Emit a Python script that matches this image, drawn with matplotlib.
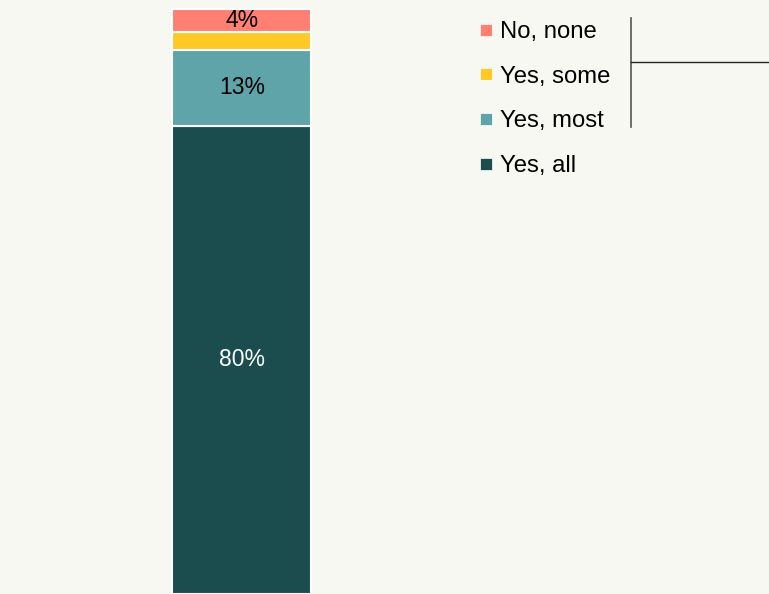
import matplotlib.pyplot as plt
from matplotlib.lines import Line2D

plt.rcParams['font.family'] = ['Liberation Sans', 'DejaVu Sans']

# Data (stack order bottom -> top)
categories = ['Yes, all', 'Yes, most', 'Yes, some', 'No, none']
values = [80, 13, 3, 4]
labels = ['80%', '13%', '', '4%']
colors = ['#1b4d4f', '#5fa4a9', '#ffc926', '#ff7f72']
label_colors = ['white', 'black', 'black', 'black']

bg = '#f8f8f3'
fig = plt.figure(figsize=(7.69, 5.94), dpi=100, facecolor=bg)
ax = fig.add_axes([0, 0, 1, 1])
ax.set_facecolor(bg)

bottom = 0
for cat, v, lab, c, lc in zip(categories, values, labels, colors, label_colors):
    ax.bar(0, v, width=1, bottom=bottom, color=c, edgecolor='white', linewidth=1.5, label=cat)
    if lab:
        ax.text(0, bottom + v / 2, lab, ha='center', va='center', color=lc, fontsize=16.5)
    bottom += v

ax.set_xlim(-0.5 - 172.3 / 139, 0.5 + (769 - 311.3) / 139)
ax.set_ylim(0, 100 / 585 * 594)
ax.axis('off')

# Legend (top item = top of stack)
handles = [Line2D([], [], marker='s', linestyle='none', markersize=8, color=c,
                  markeredgecolor='white', markeredgewidth=0.5)
           for c in colors[::-1]]
fig.legend(handles, categories[::-1], loc='upper left',
           bbox_to_anchor=(467 / 769, 1 - 9 / 594), frameon=False,
           fontsize=17.2, handlelength=0.6, handletextpad=0.3, labelspacing=0.95,
           borderpad=0)

# Bracket lines
fig.add_artist(Line2D([631 / 769, 631 / 769], [1 - 18 / 594, 1 - 127 / 594],
                      color='#555555', linewidth=1.2))
fig.add_artist(Line2D([631 / 769, 1], [1 - 62 / 594, 1 - 62 / 594],
                      color='#222222', linewidth=1))

fig.savefig('out.png', dpi=100, facecolor=bg)
